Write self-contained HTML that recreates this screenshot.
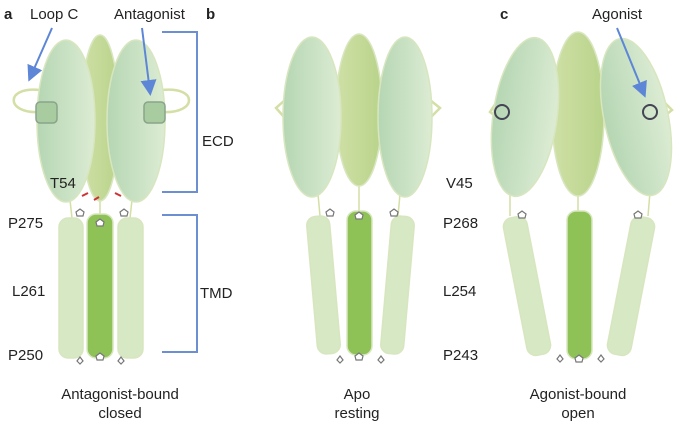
<!DOCTYPE html>
<html><head><style>body{margin:0;background:#fff}svg{display:block}text{font-family:"Liberation Sans",sans-serif;fill:#222}</style></head><body>
<svg width="680" height="424" viewBox="0 0 680 424">
<defs>
<linearGradient id="g1" x1="0" x2="1"><stop offset="0" stop-color="#b5d6b3"/><stop offset="1" stop-color="#dcecd3"/></linearGradient>
<linearGradient id="g2" x1="0" x2="1"><stop offset="0" stop-color="#cfe0a6"/><stop offset="1" stop-color="#b9d38a"/></linearGradient>
<marker id="ar" markerWidth="8" markerHeight="8" refX="6" refY="4" orient="auto"><path d="M0,0 L8,4 L0,8z" fill="#5d86d6"/></marker>
</defs>
<g fill="none" stroke="#d3dfa5" stroke-width="2.5">
<path d="M40,90 C5,86 5,114 40,112"/>
<path d="M162,90 C198,86 198,114 162,112"/>
<path d="M285,100 L276,108 L285,118"/>
<path d="M430,100 L440,108 L430,118"/>
<path d="M498,100 L490,112 L498,118"/>
<path d="M662,100 L672,110 L662,118"/>
</g>
<g stroke="#d3dfa5" stroke-width="1.5" fill="none">
<path d="M70,200 L72,218M100,200 L100,214M132,200 L130,218"/>
<path d="M318,194 L320,216M359,186 L359,212M400,194 L398,216"/>
<path d="M510,192 L510,216M578,196 L578,212M650,192 L648,216"/>
</g>
<g stroke="#d8e6bf" stroke-width="1.5">
<ellipse cx="100" cy="118" rx="19" ry="83" fill="url(#g2)"/>
<ellipse cx="66" cy="121" rx="29" ry="81" fill="url(#g1)"/>
<ellipse cx="136" cy="121" rx="29" ry="81" fill="url(#g1)"/>
<rect x="59" y="218" width="24" height="140" rx="9" fill="#d6e8c4"/>
<rect x="87" y="214" width="26" height="144" rx="9" fill="#8ec257"/>
<rect x="118" y="218" width="25" height="140" rx="9" fill="#d6e8c4"/>
<ellipse cx="359" cy="110" rx="23" ry="76" fill="url(#g2)"/>
<ellipse cx="312" cy="117" rx="29" ry="80" fill="url(#g1)"/>
<ellipse cx="405" cy="117" rx="27" ry="80" fill="url(#g1)"/>
<rect x="312" y="216" width="23" height="138" rx="9" fill="#d6e8c4" transform="rotate(-5 323 285)"/>
<rect x="347" y="211" width="25" height="144" rx="9" fill="#8ec257"/>
<rect x="386" y="216" width="23" height="138" rx="9" fill="#d6e8c4" transform="rotate(5 397 285)"/>
<ellipse cx="578" cy="114" rx="26" ry="82" fill="url(#g2)"/>
<ellipse cx="525" cy="117" rx="32" ry="80" fill="url(#g1)" transform="rotate(8 525 117)"/>
<ellipse cx="636" cy="117" rx="32" ry="80" fill="url(#g1)" transform="rotate(-12 636 117)"/>
<rect x="515" y="216" width="24" height="140" rx="9" fill="#d6e8c4" transform="rotate(-11 527 286)"/>
<rect x="567" y="211" width="25" height="148" rx="9" fill="#8ec257"/>
<rect x="619" y="216" width="24" height="140" rx="9" fill="#d6e8c4" transform="rotate(11 631 286)"/>
</g>
<rect x="36" y="102" width="21" height="21" rx="4" fill="#a9cba0" stroke="#8aa48a" stroke-width="1.5"/>
<rect x="144" y="102" width="21" height="21" rx="4" fill="#a9cba0" stroke="#8aa48a" stroke-width="1.5"/>
<circle cx="502" cy="112" r="7" fill="none" stroke="#445" stroke-width="2"/>
<circle cx="650" cy="112" r="7" fill="none" stroke="#445" stroke-width="2"/>
<g fill="#fff" stroke="#777" stroke-width="1.2">
<path d="M76,212l4,-3 4,3 -1,4h-6z M120,212l4,-3 4,3 -1,4h-6z M96,222l4,-3 4,3 -1,4h-6z M96,356l4,-3 4,3 -1,4h-6z M80,357l3,4 -3,3 -3,-3z M121,357l3,4 -3,3 -3,-3z"/>
<path d="M326,212l4,-3 4,3 -1,4h-6z M390,212l4,-3 4,3 -1,4h-6z M355,215l4,-3 4,3 -1,4h-6z M355,356l4,-3 4,3 -1,4h-6z M340,356l3,4 -3,3 -3,-3z M381,356l3,4 -3,3 -3,-3z"/>
<path d="M518,214l4,-3 4,3 -1,4h-6z M634,214l4,-3 4,3 -1,4h-6z M575,358l4,-3 4,3 -1,4h-6z M560,355l3,4 -3,3 -3,-3z M601,355l3,4 -3,3 -3,-3z"/>
</g>
<g stroke="#c33" stroke-width="2"><path d="M82,196l6,-3M94,200l5,-3M115,193l6,3"/></g>
<g stroke="#6b8fd0" stroke-width="2" fill="none">
<path d="M162,32H197V192H162"/><path d="M162,215H197V352H162"/>
</g>
<g stroke="#5d86d6" stroke-width="2">
<line x1="52" y1="28" x2="30" y2="78" marker-end="url(#ar)"/>
<line x1="142" y1="28" x2="150" y2="92" marker-end="url(#ar)"/>
<line x1="617" y1="28" x2="644" y2="94" marker-end="url(#ar)"/>
</g>
<g font-size="15">
<text x="4" y="19" font-weight="bold">a</text>
<text x="30" y="19">Loop C</text>
<text x="114" y="19">Antagonist</text>
<text x="206" y="19" font-weight="bold">b</text>
<text x="500" y="19" font-weight="bold">c</text>
<text x="592" y="19">Agonist</text>
<text x="202" y="146">ECD</text>
<text x="200" y="298">TMD</text>
<text x="50" y="188">T54</text>
<text x="8" y="228">P275</text>
<text x="12" y="296">L261</text>
<text x="8" y="360">P250</text>
<text x="446" y="188">V45</text>
<text x="443" y="228">P268</text>
<text x="443" y="296">L254</text>
<text x="443" y="360">P243</text>
<g text-anchor="middle">
<text x="120" y="399">Antagonist-bound</text><text x="120" y="418">closed</text>
<text x="357" y="399">Apo</text><text x="357" y="418">resting</text>
<text x="578" y="399">Agonist-bound</text><text x="578" y="418">open</text>
</g></g>
</svg>
</body></html>
